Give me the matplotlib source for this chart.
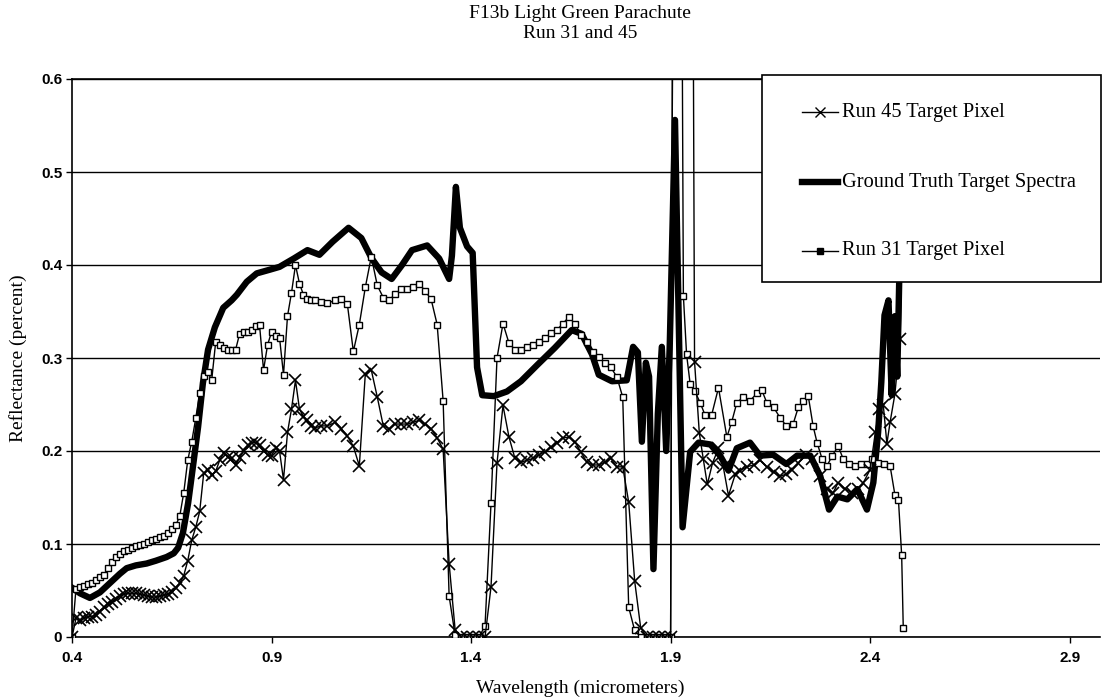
import matplotlib
matplotlib.use('Agg')
import matplotlib.pyplot as plt
from matplotlib.lines import Line2D
from matplotlib.patches import Rectangle

# Run 31 / Run 45 target pixels (wavelength in micrometers, reflectance)
wl31 = [0.40, 0.41, 0.42, 0.43, 0.44, 0.45, 0.46, 0.47, 0.48, 0.49,
        0.50, 0.51, 0.52, 0.53, 0.54, 0.55, 0.56, 0.57, 0.58, 0.59,
        0.60, 0.61, 0.62, 0.63, 0.64, 0.65, 0.66, 0.67, 0.68, 0.69,
        0.70, 0.71, 0.72, 0.73, 0.74, 0.75, 0.76, 0.77, 0.78, 0.79,
        0.80, 0.81, 0.82, 0.83, 0.84, 0.85, 0.86, 0.87, 0.88, 0.89,
        0.90, 0.91, 0.92, 0.93, 0.94, 0.95, 0.96, 0.97, 0.98, 0.99,
        1.00, 1.01, 1.025, 1.04, 1.06, 1.075, 1.09, 1.105, 1.12, 1.135,
        1.15, 1.165, 1.18, 1.195, 1.21, 1.225, 1.24, 1.255, 1.27, 1.285,
        1.30, 1.315, 1.33, 1.345, 1.36, 1.375, 1.39, 1.405, 1.42, 1.435,
        1.45, 1.465, 1.48, 1.495, 1.51, 1.525, 1.54, 1.555, 1.57, 1.585,
        1.60, 1.615, 1.63, 1.645, 1.66, 1.675, 1.69, 1.705, 1.72, 1.735,
        1.75, 1.765, 1.78, 1.795, 1.81, 1.825, 1.84, 1.855, 1.87, 1.885,
        1.90, 1.915, 1.932, 1.94, 1.949, 1.961, 1.974, 1.986, 2.003, 2.02,
        2.041, 2.053, 2.066, 2.082, 2.099, 2.116, 2.128, 2.141, 2.158, 2.174,
        2.19, 2.207, 2.22, 2.233, 2.245, 2.257, 2.267, 2.28, 2.292, 2.305,
        2.32, 2.333, 2.348, 2.362, 2.377, 2.392, 2.405, 2.42, 2.435, 2.45,
        2.462, 2.471, 2.479, 2.483]
r31 = [0.0, 0.052, 0.054, 0.055, 0.057, 0.058, 0.061, 0.064, 0.067, 0.074,
       0.081, 0.086, 0.089, 0.092, 0.094, 0.096, 0.098, 0.099, 0.100, 0.102,
       0.104, 0.105, 0.107, 0.109, 0.112, 0.116, 0.120, 0.130, 0.155, 0.190,
       0.210, 0.235, 0.262, 0.281, 0.285, 0.276, 0.317, 0.314, 0.311, 0.309,
       0.309, 0.309, 0.326, 0.328, 0.328, 0.330, 0.334, 0.335, 0.287, 0.314,
       0.328, 0.324, 0.322, 0.282, 0.345, 0.370, 0.400, 0.380, 0.368, 0.363,
       0.362, 0.362, 0.360, 0.359, 0.362, 0.363, 0.358, 0.307, 0.336, 0.376,
       0.409, 0.378, 0.365, 0.362, 0.369, 0.374, 0.374, 0.376, 0.380, 0.372,
       0.363, 0.336, 0.254, 0.044, 0.002, 0.0, 0.0, 0.0, 0.0, 0.012,
       0.144, 0.300, 0.337, 0.316, 0.309, 0.309, 0.312, 0.314, 0.317, 0.321,
       0.327, 0.330, 0.337, 0.344, 0.337, 0.325, 0.317, 0.306, 0.301, 0.295,
       0.290, 0.280, 0.258, 0.032, 0.007, 0.0, 0.0, 0.0, 0.0, 0.0,
       0.0, 2.0, 0.367, 0.304, 0.272, 0.264, 0.252, 0.239, 0.239, 0.268,
       0.215, 0.231, 0.252, 0.258, 0.254, 0.262, 0.266, 0.252, 0.247, 0.236,
       0.227, 0.229, 0.247, 0.254, 0.259, 0.227, 0.209, 0.191, 0.184, 0.195,
       0.205, 0.191, 0.186, 0.184, 0.186, 0.186, 0.191, 0.187, 0.186, 0.184,
       0.153, 0.147, 0.088, 0.010]

wl45 = [0.40, 0.41, 0.42, 0.43, 0.44, 0.45, 0.46, 0.47, 0.48, 0.49,
        0.50, 0.51, 0.52, 0.53, 0.54, 0.55, 0.56, 0.57, 0.58, 0.59,
        0.60, 0.61, 0.62, 0.63, 0.64, 0.65, 0.66, 0.67, 0.68, 0.69,
        0.70, 0.71, 0.72, 0.73, 0.74, 0.75, 0.76, 0.77, 0.78, 0.79,
        0.80, 0.81, 0.82, 0.83, 0.84, 0.85, 0.86, 0.87, 0.88, 0.89,
        0.90, 0.91, 0.92, 0.93, 0.94, 0.95, 0.96, 0.97, 0.98, 0.99,
        1.00, 1.01, 1.025, 1.04, 1.06, 1.075, 1.09, 1.105, 1.12, 1.135,
        1.15, 1.165, 1.18, 1.195, 1.21, 1.225, 1.24, 1.255, 1.27, 1.285,
        1.30, 1.315, 1.33, 1.345, 1.36, 1.375, 1.39, 1.405, 1.42, 1.435,
        1.45, 1.465, 1.48, 1.495, 1.51, 1.525, 1.54, 1.555, 1.57, 1.585,
        1.60, 1.615, 1.63, 1.645, 1.66, 1.675, 1.69, 1.705, 1.72, 1.735,
        1.75, 1.765, 1.78, 1.795, 1.81, 1.825, 1.84, 1.855, 1.87, 1.885,
        1.90, 1.915, 1.93, 1.945, 1.96, 1.972, 1.982, 1.992, 2.005, 2.02,
        2.032, 2.045, 2.062, 2.074, 2.091, 2.108, 2.124, 2.141, 2.158, 2.174,
        2.19, 2.205, 2.22, 2.24, 2.255, 2.275, 2.292, 2.307, 2.32, 2.338,
        2.355, 2.37, 2.383, 2.40, 2.413, 2.423, 2.433, 2.442, 2.45, 2.462,
        2.475, 2.49]
r45 = [0.0, 0.020, 0.018, 0.020, 0.022, 0.022, 0.024, 0.027, 0.032, 0.036,
       0.038, 0.041, 0.044, 0.046, 0.047, 0.047, 0.047, 0.046, 0.045, 0.044,
       0.043, 0.043, 0.044, 0.045, 0.046, 0.048, 0.053, 0.058, 0.066, 0.082,
       0.104, 0.118, 0.135, 0.176, 0.180, 0.174, 0.178, 0.190, 0.198, 0.194,
       0.192, 0.185, 0.193, 0.200, 0.206, 0.209, 0.209, 0.206, 0.200, 0.196,
       0.195, 0.203, 0.200, 0.169, 0.220, 0.245, 0.276, 0.245, 0.237, 0.233,
       0.227, 0.225, 0.227, 0.227, 0.231, 0.224, 0.216, 0.205, 0.184, 0.283,
       0.287, 0.258, 0.227, 0.224, 0.229, 0.229, 0.229, 0.231, 0.233, 0.229,
       0.224, 0.214, 0.202, 0.079, 0.008, 0.0, 0.0, 0.0, 0.0, 0.0,
       0.054, 0.187, 0.249, 0.215, 0.192, 0.188, 0.190, 0.192, 0.196, 0.199,
       0.204, 0.209, 0.214, 0.215, 0.210, 0.199, 0.188, 0.185, 0.185, 0.188,
       0.192, 0.183, 0.183, 0.145, 0.060, 0.010, 0.0, 0.0, 0.0, 0.0,
       0.0, 2.0, 2.0, 2.0, 0.296, 0.219, 0.191, 0.164, 0.187, 0.203,
       0.183, 0.152, 0.175, 0.179, 0.183, 0.185, 0.190, 0.183, 0.177, 0.173,
       0.175, 0.180, 0.187, 0.196, 0.191, 0.173, 0.159, 0.155, 0.166, 0.159,
       0.155, 0.159, 0.166, 0.180, 0.220, 0.245, 0.249, 0.208, 0.231, 0.261,
       0.320, 0.620]

# Ground truth target spectra
wl_gt = [0.40, 0.42, 0.445, 0.47, 0.495, 0.52, 0.537, 0.56, 0.587, 0.61,
         0.637, 0.655, 0.666, 0.678, 0.691, 0.703, 0.716, 0.728, 0.741, 0.758,
         0.779, 0.80, 0.813, 0.838, 0.863, 0.896, 0.92, 0.956, 0.99, 1.02,
         1.053, 1.093, 1.125, 1.151, 1.176, 1.201, 1.227, 1.252, 1.29, 1.32,
         1.345, 1.352, 1.362, 1.372, 1.39, 1.404, 1.415, 1.428, 1.457, 1.49,
         1.525, 1.567, 1.61, 1.652, 1.677, 1.703, 1.72, 1.753, 1.79, 1.806,
         1.818, 1.828, 1.838, 1.846, 1.857, 1.868, 1.878, 1.889, 1.898, 1.911,
         1.93, 1.949, 1.97, 2.0, 2.024, 2.045, 2.066, 2.099, 2.124, 2.157,
         2.19, 2.217, 2.25, 2.275, 2.297, 2.318, 2.343, 2.368, 2.392, 2.408,
         2.42, 2.428, 2.436, 2.446, 2.454, 2.462, 2.468, 2.476, 2.488]
gt = [0.053, 0.047, 0.042, 0.048, 0.058, 0.068, 0.074, 0.077, 0.079, 0.082,
      0.086, 0.090, 0.096, 0.112, 0.144, 0.183, 0.226, 0.273, 0.309, 0.333,
      0.354, 0.362, 0.368, 0.382, 0.391, 0.395, 0.398, 0.407, 0.416, 0.411,
      0.425, 0.440, 0.429, 0.407, 0.392, 0.385, 0.400, 0.416, 0.421, 0.407,
      0.385, 0.410, 0.484, 0.440, 0.420, 0.413, 0.290, 0.260, 0.259, 0.264,
      0.275, 0.293, 0.311, 0.330, 0.326, 0.304, 0.282, 0.275, 0.276, 0.312,
      0.306, 0.210, 0.295, 0.280, 0.073, 0.240, 0.312, 0.200, 0.316, 0.556,
      0.118, 0.199, 0.209, 0.207, 0.195, 0.179, 0.203, 0.209, 0.195, 0.196,
      0.186, 0.195, 0.195, 0.173, 0.137, 0.151, 0.148, 0.159, 0.137, 0.166,
      0.220, 0.274, 0.346, 0.362, 0.260, 0.345, 0.280, 0.450, 0.620]

xticks = [0.4, 0.9, 1.4, 1.9, 2.4, 2.9]
yticks = [0, 0.1, 0.2, 0.3, 0.4, 0.5, 0.6]
ytick_labels = ['0', '0.1', '0.2', '0.3', '0.4', '0.5', '0.6']
legend_labels = ['Run 45 Target Pixel', 'Ground Truth Target Spectra',
                 'Run 31 Target Pixel']

serif = ['Liberation Serif', 'DejaVu Serif']
sans = ['Liberation Sans', 'DejaVu Sans']

W, H = 1102, 700
fig = plt.figure(figsize=(W / 100, H / 100), dpi=100)
ax = fig.add_axes([72 / W, 63 / H, 1028 / W, 558 / H])

ax.plot(wl_gt, gt, color='black', lw=4.6, solid_joinstyle='round', zorder=3)
ax.plot(wl31, r31, color='black', lw=1.0, marker='s', ms=4, mfc='white',
        mec='black', mew=1.0, zorder=4)
ax.plot(wl45, r45, color='black', lw=1.0, marker='x', ms=8, mew=1.2, zorder=4)

ax.set_xlim(0.4, 2.976)
ax.set_ylim(0, 0.6)
ax.set_xticks(xticks)
ax.set_xticklabels([str(v) for v in xticks])
ax.set_yticks(yticks)
ax.set_yticklabels(ytick_labels)
for lab in ax.get_xticklabels() + ax.get_yticklabels():
    lab.set_family(sans)
    lab.set_fontweight('bold')
    lab.set_fontsize(11)
ax.tick_params(axis='both', direction='out', length=4, width=1, colors='black')
ax.tick_params(axis='x', pad=6)
ax.tick_params(axis='y', pad=3)
ax.yaxis.grid(True, color='black', lw=1.0)
ax.set_axisbelow(True)
ax.spines['right'].set_visible(False)
for s in ['left', 'bottom', 'top']:
    ax.spines[s].set_linewidth(1.2)

# titles and axis labels
fig.text(580 / W, 1 - 13 / H, 'F13b Light Green Parachute', ha='center',
         va='center', family=serif, fontsize=14)
fig.text(580 / W, 1 - 34 / H, 'Run 31 and 45', ha='center', va='center',
         family=serif, fontsize=14)
fig.text(580 / W, 1 - 688 / H, 'Wavelength (micrometers)', ha='center',
         va='center', family=serif, fontsize=14)
fig.text(18 / W, 1 - 358 / H, 'Reflectance (percent)', ha='center',
         va='center', rotation=90, family=serif, fontsize=14)

# legend box, drawn by hand to match the original layout
box = Rectangle((762 / W, 1 - 282 / H), (1101 - 762) / W, 207 / H,
                transform=fig.transFigure, facecolor='white',
                edgecolor='black', lw=1.2, zorder=4)
fig.patches.append(box)

row_y = [112, 182, 251]
hx0, hx1, tx = 802 / W, 838 / W, 842 / W
handle_styles = [
    dict(lw=1.0, marker='x', ms=7, mew=1.0, markevery=[1]),
    dict(lw=4.6),
    dict(lw=1.0, marker='s', ms=4, mfc='black', markevery=[1]),
]
for yy, lab, st in zip(row_y, legend_labels, handle_styles):
    yf = 1 - yy / H
    fig.add_artist(Line2D([hx0, (hx0 + hx1) / 2, hx1], [yf, yf, yf],
                          color='black', transform=fig.transFigure,
                          zorder=5, **st))
    fig.text(tx, yf, lab, ha='left', va='center', family=serif,
             fontsize=14.7, zorder=5)

fig.savefig('out.png', dpi=100)
